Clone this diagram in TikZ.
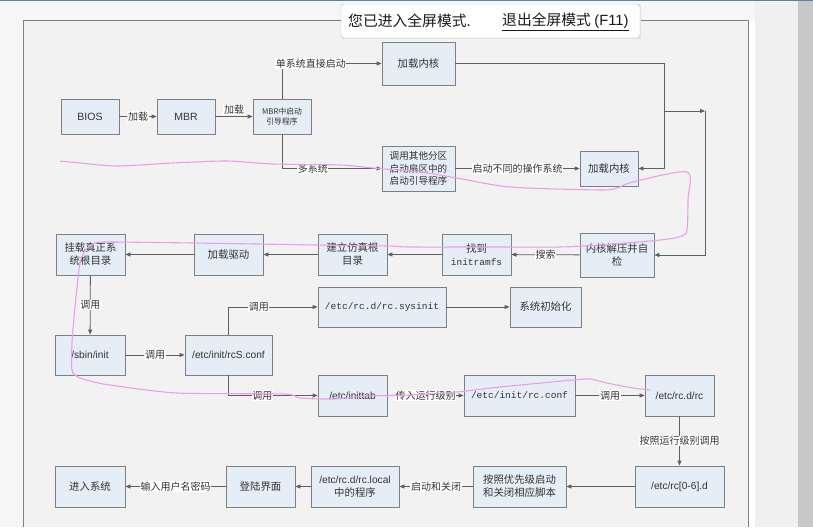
\documentclass[tikz,border=0pt]{standalone}
\usepackage{fontspec}
\setmainfont{Noto Sans CJK SC}
\newfontfamily\latf{Liberation Sans}
\newfontfamily\monof{Liberation Mono}
\usetikzlibrary{arrows.meta,calc}
\definecolor{boxfill}{HTML}{E5EEF6}
\definecolor{boxline}{HTML}{7F7F7F}
\definecolor{wire}{HTML}{5F5F5F}
\definecolor{canvas}{HTML}{F2F2F2}
\definecolor{pagebg}{HTML}{F6F6F6}
\definecolor{pinkpen}{HTML}{EE9CEE}
\definecolor{topbar}{HTML}{5B7FAE}
\begin{document}
\begin{tikzpicture}[x=1pt,y=-1pt,
  stepbox/.style={draw=boxline,fill=boxfill,line width=0.8pt,inner sep=1pt,align=center,
    font=\fontsize{10.4}{13}\selectfont,text=black!80},
  conn/.style={draw=wire,line width=0.8pt,-{Triangle[length=5pt,width=4pt]}},
  lab/.style={fill=white,inner sep=0.6pt,font=\fontsize{10}{11}\selectfont,text=black!80}]
\useasboundingbox (0,0) rectangle (813,527);
% page and browser chrome
\fill[pagebg] (0,0) rectangle (813,527);
\fill[canvas] (23,20) rectangle (748,527);
\draw[boxline,line width=0.8pt] (23,527) -- (23,20) -- (748,20) -- (748,527);
\fill[white] (749,20) rectangle (755,527);
\fill[black!6] (755,0) rectangle (798,527);
\fill[black!22] (798,0) rectangle (813,527);
\fill[topbar] (0,0) rectangle (813,1.5);

% nodes
\node[stepbox,minimum width=58pt,minimum height=35pt,font=\latf\fontsize{10.5}{12}\selectfont] (bios) at (90,116.5) {BIOS};
\node[stepbox,minimum width=58pt,minimum height=35pt,font=\latf\fontsize{10.5}{12}\selectfont] (mbr) at (186,116.5) {MBR};
\node[stepbox,minimum width=58pt,minimum height=35pt,font=\fontsize{7.8}{10}\selectfont] (mbrboot) at (282,116.5) {MBR中启动\\引导程序};
\node[stepbox,minimum width=73pt,minimum height=43pt] (k1) at (418.5,63.5) {加载内核};
\node[stepbox,minimum width=73pt,minimum height=45pt,font=\fontsize{9.6}{12.5}\selectfont] (other) at (418.5,168.5) {调用其他分区\\启动扇区中的\\启动引导程序};
\node[stepbox,minimum width=58pt,minimum height=35pt] (k2) at (609,168.5) {加载内核};

\node[stepbox,minimum width=74pt,minimum height=44pt] (kcheck) at (617,255) {内核解压并自\\检};
\node[stepbox,minimum width=69pt,minimum height=41pt] (initrd) at (476.5,254.5) {找到\\{\monof\fontsize{9.5}{12}\selectfont initramfs}};
\node[stepbox,minimum width=69pt,minimum height=41pt] (sim) at (352.5,254.5) {建立仿真根\\目录};
\node[stepbox,minimum width=69pt,minimum height=41pt] (drv) at (228.5,254.5) {加载驱动};
\node[stepbox,minimum width=69pt,minimum height=41pt] (mount) at (90.5,254.5) {挂载真正系\\统根目录};

\node[stepbox,minimum width=70pt,minimum height=40pt,font=\latf\fontsize{10.2}{12}\selectfont] (sbin) at (90,355) {/sbin/init};
\node[stepbox,minimum width=87pt,minimum height=40pt,font=\latf\fontsize{10.2}{12}\selectfont] (rcs) at (228.5,355) {/etc/init/rcS.conf};
\node[stepbox,minimum width=128pt,minimum height=40pt,font=\monof\fontsize{9.5}{12}\selectfont] (sysinit) at (382,307) {/etc/rc.d/rc.sysinit};
\node[stepbox,minimum width=71pt,minimum height=40pt] (sysinit2) at (545.5,307) {系统初始化};

\node[stepbox,minimum width=69pt,minimum height=41pt,font=\latf\fontsize{10.2}{12}\selectfont] (inittab) at (352.5,395.5) {/etc/inittab};
\node[stepbox,minimum width=111pt,minimum height=41pt,font=\monof\fontsize{9.5}{12}\selectfont] (rcconf) at (519.5,395.5) {/etc/init/rc.conf};
\node[stepbox,minimum width=69pt,minimum height=41pt,font=\latf\fontsize{10.2}{12}\selectfont] (rcrc) at (679.5,395.5) {/etc/rc.d/rc};

\node[stepbox,minimum width=89pt,minimum height=41pt,font=\latf\fontsize{10.2}{12}\selectfont] (rc06) at (679.5,486.5) {/etc/rc[0-6].d};
\node[stepbox,minimum width=93pt,minimum height=41pt] (prio) at (519.5,486.5) {按照优先级启动\\和关闭相应脚本};
\node[stepbox,minimum width=88pt,minimum height=41pt] (rclocal) at (355,486.5) {{\latf\fontsize{10.2}{12}\selectfont /etc/rc.d/rc.local}\\中的程序};
\node[stepbox,minimum width=69pt,minimum height=41pt] (login) at (260.5,486.5) {登陆界面};
\node[stepbox,minimum width=70pt,minimum height=41pt] (enter) at (90,486.5) {进入系统};

% junction points
\coordinate (j2) at (664,111);
\coordinate (j3) at (705,111);

% connectors
\draw[conn] (bios) -- node[lab] {加载} (mbr);
\draw[conn] (mbr) -- node[lab,above=1pt] {加载} (mbrboot);
\draw[conn] (mbrboot.north) |- node[lab,pos=0.645] {单系统直接启动} (k1.west);
\draw[conn] (mbrboot.south) |- node[lab,pos=0.655] {多系统} (other.west);
\draw[conn] (other) -- node[lab] {启动不同的操作系统} (k2);
\draw[conn] (k1.east) -| (j2) |- (k2.east);
\draw[conn] (j2) -- (j3);
\draw[conn] (j3) |- (kcheck.east);

\draw[conn] (kcheck) -- node[lab] {搜索} (initrd);
\draw[conn] (initrd) -- (sim);
\draw[conn] (sim) -- (drv);
\draw[conn] (drv) -- (mount);
\draw[conn] (mount) -- node[lab] {调用} (sbin);
\draw[conn] (sbin) -- node[lab] {调用} (rcs);
\draw[conn] (rcs.north) |- node[lab,pos=0.67] {调用} (sysinit.west);
\draw[conn] (sysinit) -- (sysinit2);
\draw[conn] (rcs.south) |- node[lab,pos=0.69] {调用} (inittab.west);
\draw[conn] (inittab) -- node[lab] {传入运行级别} (rcconf);
\draw[conn] (rcconf) -- node[lab] {调用} (rcrc);
\draw[conn] (rcrc) -- node[lab] {按照运行级别调用} (rc06);
\draw[conn] (rc06) -- (prio);
\draw[conn] (prio) -- node[lab] {启动和关闭} (rclocal);
\draw[conn] (rclocal) -- (login);
\draw[conn] (login) -- node[lab] {输入用户名密码} (enter);

% fullscreen popup
\fill[black!10] (341.5,5) rectangle (641,39.5);
\draw[black!28,fill=white,rounded corners=3pt] (341,4) rectangle (640,38);
\node[anchor=west,inner sep=0,font=\fontsize{14.8}{16}\selectfont,text=black!90] (msg) at (348,21) {您已进入全屏模式.};
\node[anchor=west,inner sep=0,font=\fontsize{14.8}{16}\selectfont,text=black!90] (exitlink) at (502,21) {退出全屏模式 {\latf(F11)}};
\draw[black!90,line width=0.6pt] ($(exitlink.south west)+(0,1.5)$) -- ($(exitlink.south east)+(0,1.5)$);

% pink scribble
\draw[pinkpen,line width=1.1pt,line cap=round,line join=round] plot[smooth,tension=0.45] coordinates {
 (60,161) (80,163) (117,166) (173,163) (227,161) (273,164) (340,165) (373,168) (420,172) (457,178)
 (510,187) (600,190) (617,188) (633,182) (687,172) (688,200) (687,230) (682,236) (668,239) (650,241)
 (600,245) (560,247) (490,247) (410,247) (387,246) (318,245) (193,243) (110,242) (95,243) (87,248)
 (80,263) (75,307) (72,343) (72,370) (78,377) (90,381) (110,385) (177,393) (283,394) (300,398)
 (333,399) (367,396) (410,395) (457,392) (500,387) (573,380) (590,379) (607,383) (633,388) (650,390)};
\end{tikzpicture}
\end{document}
